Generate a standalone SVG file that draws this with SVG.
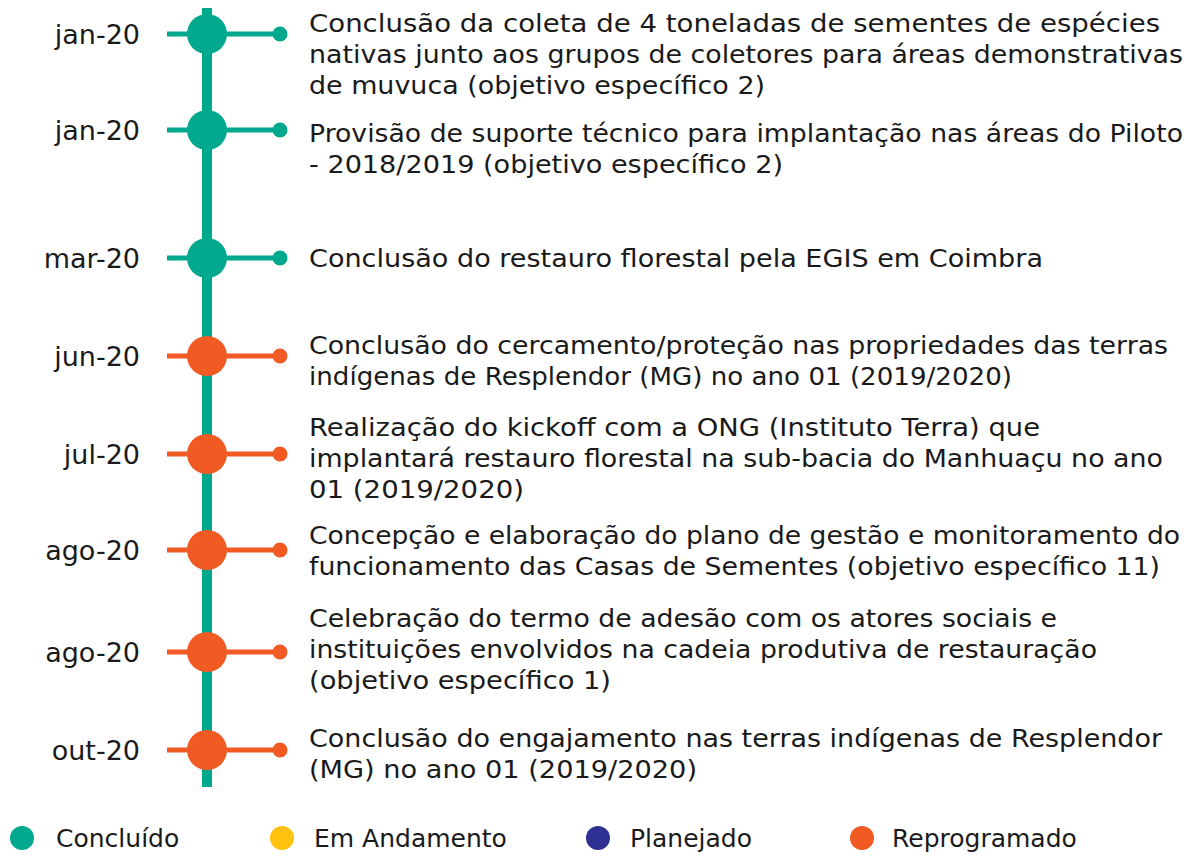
<svg xmlns="http://www.w3.org/2000/svg" width="1189" height="859" viewBox="0 0 1189 859">
<style>
text{font-family:"DejaVu Sans","Verdana",sans-serif;fill:#1a1a1a;font-size:25px}
.d{font-size:25px}
.lab{text-anchor:end;font-size:27px}
.g{fill:#00a88e}
.o{fill:#f15a22}
.gs{stroke:#00a88e;stroke-width:5}
.os{stroke:#f15a22;stroke-width:5}
</style>
<rect width="1189" height="859" fill="#ffffff"/>
<g id="connectors">
<line x1="207" y1="8" x2="207" y2="787" stroke="#00a88e" stroke-width="10"/>
</g>
<g id="m1">
<line class="gs" x1="167" y1="34" x2="280" y2="34"/>
<circle class="g" cx="207" cy="34" r="20"/><circle class="g" cx="280" cy="34" r="7.5"/>
<text class="lab" x="140" y="44">jan-20</text>
<text class="d" x="309" y="32" textLength="851" lengthAdjust="spacingAndGlyphs">Conclusão da coleta de 4 toneladas de sementes de espécies</text>
<text class="d" x="309" y="63" textLength="874" lengthAdjust="spacingAndGlyphs">nativas junto aos grupos de coletores para áreas demonstrativas</text>
<text class="d" x="309" y="94" textLength="456" lengthAdjust="spacingAndGlyphs">de muvuca (objetivo específico 2)</text>
</g>
<g id="m2">
<line class="gs" x1="167" y1="130" x2="280" y2="130"/>
<circle class="g" cx="207" cy="130" r="20"/><circle class="g" cx="280" cy="130" r="7.5"/>
<text class="lab" x="140" y="140">jan-20</text>
<text class="d" x="309" y="142" textLength="874" lengthAdjust="spacingAndGlyphs">Provisão de suporte técnico para implantação nas áreas do Piloto</text>
<text class="d" x="309" y="173" textLength="474" lengthAdjust="spacingAndGlyphs">- 2018/2019 (objetivo específico 2)</text>
</g>
<g id="m3">
<line class="gs" x1="167" y1="258" x2="280" y2="258"/>
<circle class="g" cx="207" cy="258" r="20"/><circle class="g" cx="280" cy="258" r="7.5"/>
<text class="lab" x="140" y="268">mar-20</text>
<text class="d" x="309" y="267" textLength="734" lengthAdjust="spacingAndGlyphs">Conclusão do restauro florestal pela EGIS em Coimbra</text>
</g>
<g id="m4">
<line class="os" x1="167" y1="356" x2="280" y2="356"/>
<circle class="o" cx="207" cy="356" r="20"/><circle class="o" cx="280" cy="356" r="7.5"/>
<text class="lab" x="140" y="366">jun-20</text>
<text class="d" x="309" y="354" textLength="859" lengthAdjust="spacingAndGlyphs">Conclusão do cercamento/proteção nas propriedades das terras</text>
<text class="d" x="309" y="385" textLength="703" lengthAdjust="spacingAndGlyphs">indígenas de Resplendor (MG) no ano 01 (2019/2020)</text>
</g>
<g id="m5">
<line class="os" x1="167" y1="454" x2="280" y2="454"/>
<circle class="o" cx="207" cy="454" r="20"/><circle class="o" cx="280" cy="454" r="7.5"/>
<text class="lab" x="140" y="464">jul-20</text>
<text class="d" x="309" y="436" textLength="731" lengthAdjust="spacingAndGlyphs">Realização do kickoff com a ONG (Instituto Terra) que</text>
<text class="d" x="309" y="467" textLength="854" lengthAdjust="spacingAndGlyphs">implantará restauro florestal na sub-bacia do Manhuaçu no ano</text>
<text class="d" x="309" y="498" textLength="215" lengthAdjust="spacingAndGlyphs">01 (2019/2020)</text>
</g>
<g id="m6">
<line class="os" x1="167" y1="550" x2="280" y2="550"/>
<circle class="o" cx="207" cy="550" r="20"/><circle class="o" cx="280" cy="550" r="7.5"/>
<text class="lab" x="140" y="560">ago-20</text>
<text class="d" x="309" y="544" textLength="871" lengthAdjust="spacingAndGlyphs">Concepção e elaboração do plano de gestão e monitoramento do</text>
<text class="d" x="309" y="575" textLength="851" lengthAdjust="spacingAndGlyphs">funcionamento das Casas de Sementes (objetivo específico 11)</text>
</g>
<g id="m7">
<line class="os" x1="167" y1="652" x2="280" y2="652"/>
<circle class="o" cx="207" cy="652" r="20"/><circle class="o" cx="280" cy="652" r="7.5"/>
<text class="lab" x="140" y="662">ago-20</text>
<text class="d" x="309" y="627" textLength="748" lengthAdjust="spacingAndGlyphs">Celebração do termo de adesão com os atores sociais e</text>
<text class="d" x="309" y="658" textLength="788" lengthAdjust="spacingAndGlyphs">instituições envolvidos na cadeia produtiva de restauração</text>
<text class="d" x="309" y="689" textLength="302" lengthAdjust="spacingAndGlyphs">(objetivo específico 1)</text>
</g>
<g id="m8">
<line class="os" x1="167" y1="750" x2="280" y2="750"/>
<circle class="o" cx="207" cy="750" r="20"/><circle class="o" cx="280" cy="750" r="7.5"/>
<text class="lab" x="140" y="760">out-20</text>
<text class="d" x="309" y="747" textLength="853" lengthAdjust="spacingAndGlyphs">Conclusão do engajamento nas terras indígenas de Resplendor</text>
<text class="d" x="309" y="778" textLength="388" lengthAdjust="spacingAndGlyphs">(MG) no ano 01 (2019/2020)</text>
</g>
<g id="legend">
<circle cx="22" cy="838" r="12" fill="#00a88e"/>
<text x="56" y="847">Concluído</text>
<circle cx="282" cy="838" r="12" fill="#ffc20e"/>
<text x="314" y="847">Em Andamento</text>
<circle cx="598" cy="838" r="12" fill="#2e3192"/>
<text x="630" y="847">Planejado</text>
<circle cx="862" cy="838" r="12" fill="#f15a22"/>
<text x="892" y="847">Reprogramado</text>
</g>
</svg>
